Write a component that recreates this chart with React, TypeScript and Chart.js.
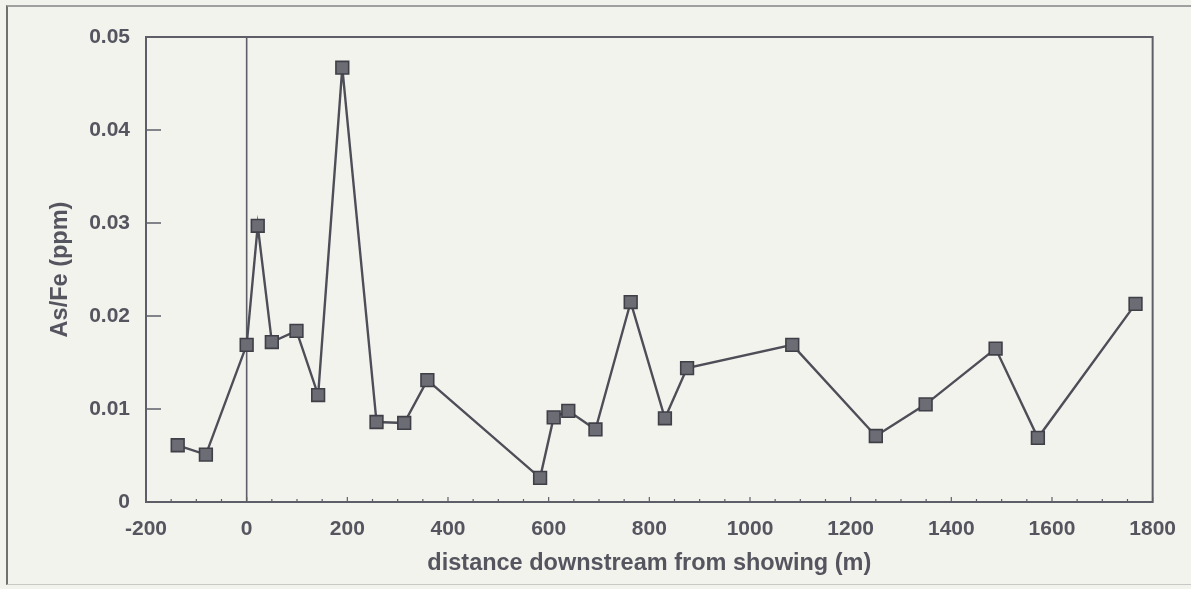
import React, { useEffect, useRef } from "react";
import { Chart, registerables } from "chart.js";

Chart.register(...registerables);

const distance = [-137, -81, 0, 22, 50, 99, 142, 190, 258, 313, 359, 583, 610, 639, 693, 763, 831, 875, 1084, 1250, 1349, 1488, 1572, 1766];
const asFe = [0.0061, 0.0051, 0.0169, 0.0297, 0.0172, 0.0184, 0.0115, 0.0467, 0.0086, 0.0085, 0.0131, 0.0026, 0.0091, 0.0098, 0.0078, 0.0215, 0.0090, 0.0144, 0.0169, 0.0071, 0.0105, 0.0165, 0.0069, 0.0213];

const xMin = -200;
const xMax = 1800;
const xMajorStep = 200;
const xMinorStep = 50;
const yMin = 0;
const yMax = 0.05;
const yStep = 0.01;

const xTitle = "distance downstream from showing (m)";
const yTitle = "As/Fe (ppm)";

const BG = "#f3f3ee";
const TEXT = "#55555f";
const AXIS = "#5e5e68";

const frameTicksPlugin = {
  id: "frameTicks",
  beforeDatasetsDraw(chart: any) {
    const { ctx, chartArea, scales } = chart;
    const { left, right, top, bottom } = chartArea;
    const xs = scales.x;
    const ys = scales.y;
    ctx.save();
    ctx.strokeStyle = AXIS;
    // zero line
    ctx.lineWidth = 1.6;
    const x0 = xs.getPixelForValue(0);
    ctx.beginPath();
    ctx.moveTo(x0, top);
    ctx.lineTo(x0, bottom);
    ctx.stroke();
    // x ticks inward
    ctx.lineWidth = 1.2;
    for (let v = xMin; v <= xMax; v += xMinorStep) {
      const px = xs.getPixelForValue(v);
      const len = v % xMajorStep === 0 ? 5 : 3;
      ctx.beginPath();
      ctx.moveTo(px, bottom);
      ctx.lineTo(px, bottom - len);
      ctx.stroke();
    }
    // y ticks inward
    ctx.lineWidth = 1.5;
    for (let i = 1; i < Math.round((yMax - yMin) / yStep); i++) {
      const py = ys.getPixelForValue(yMin + i * yStep);
      ctx.beginPath();
      ctx.moveTo(left, py);
      ctx.lineTo(left + 15, py);
      ctx.stroke();
    }
    // border
    ctx.lineWidth = 2;
    ctx.strokeRect(left, top, right - left, bottom - top);
    ctx.restore();
  },
};

export default function App() {
  const ref = useRef<HTMLCanvasElement | null>(null);

  useEffect(() => {
    if (!ref.current) return;
    const data = distance.map((d, i) => ({ x: d, y: asFe[i] }));
    const chart = new Chart(ref.current, {
      type: "scatter",
      data: {
        datasets: [
          {
            data,
            showLine: true,
            borderColor: "#4e4e58",
            borderWidth: 2.4,
            pointStyle: "rect",
            pointRadius: 9,
            pointHoverRadius: 9,
            pointBackgroundColor: "#6c6c75",
            pointBorderColor: "#3f3f48",
            pointBorderWidth: 1.6,
          } as any,
        ],
      },
      options: {
        animation: false,
        responsive: false,
        events: [],
        layout: { padding: { left: 0, top: 37, right: 38, bottom: 0 } },
        plugins: { legend: { display: false }, tooltip: { enabled: false } },
        scales: {
          x: {
            type: "linear",
            min: xMin,
            max: xMax,
            border: { display: false },
            grid: { display: false, drawTicks: false },
            afterFit: (s: any) => {
              s.height = 87;
            },
            ticks: {
              stepSize: xMajorStep,
              padding: 15,
              color: TEXT,
              font: { family: "Liberation Sans, Arial, sans-serif", size: 21, weight: "bold" },
              callback: (v: any) => String(v),
              maxRotation: 0,
            },
            title: {
              display: true,
              text: xTitle,
              color: TEXT,
              padding: { top: 0, bottom: 11 },
              font: { family: "Liberation Sans, Arial, sans-serif", size: 23.5, weight: "bold" },
            },
          },
          y: {
            type: "linear",
            min: yMin,
            max: yMax,
            border: { display: false },
            grid: { display: false, drawTicks: false },
            afterFit: (s: any) => {
              s.width = 146;
            },
            ticks: {
              stepSize: yStep,
              padding: 16,
              color: TEXT,
              font: { family: "Liberation Sans, Arial, sans-serif", size: 21, weight: "bold" },
              callback: (v: any) => (Number(v) === 0 ? "0" : Number(v).toFixed(2)),
            },
            title: {
              display: true,
              text: yTitle,
              color: TEXT,
              padding: { top: 46, bottom: 0 },
              font: { family: "Liberation Sans, Arial, sans-serif", size: 23.5, weight: "bold" },
            },
          },
        },
      },
      plugins: [frameTicksPlugin],
    });
    return () => chart.destroy();
  }, []);

  return (
    <div
      style={{
        position: "absolute",
        left: 0,
        top: 0,
        width: 1191,
        height: 589,
        background: BG,
        overflow: "hidden",
      }}
    >
      <div
        style={{
          position: "absolute",
          left: 6,
          top: 5,
          width: 1200,
          height: 577,
          borderLeft: "2px solid #707070",
          borderTop: "2px solid #a0a0a0",
          borderBottom: "1px solid #c8c8c4",
        }}
      />
      <canvas
        ref={ref}
        width={1191}
        height={589}
        style={{ position: "absolute", left: 0, top: 0, width: 1191, height: 589 }}
      />
    </div>
  );
}
